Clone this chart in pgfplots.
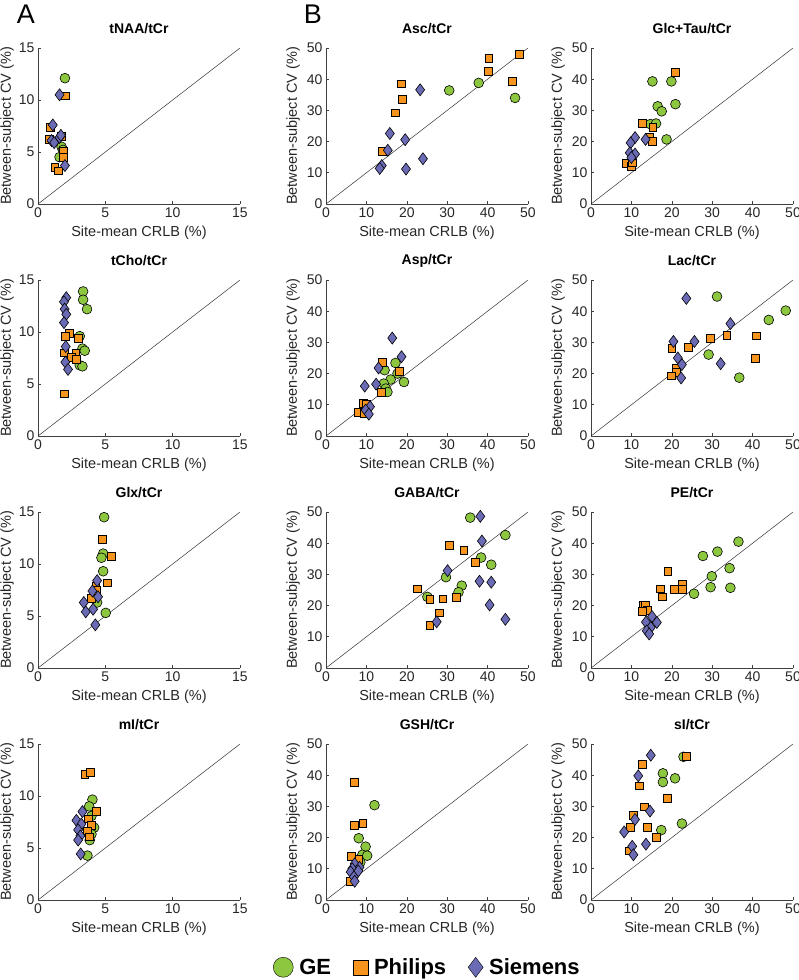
\documentclass[border=0pt]{standalone}
\usepackage{fontspec}
\setmainfont{Liberation Sans}
\usepackage{pgfplots}
\pgfplotsset{compat=1.18}

\definecolor{gecol}{RGB}{141,198,63}
\definecolor{phcol}{RGB}{247,148,30}
\definecolor{sicol}{RGB}{107,107,181}

\pgfplotsset{
  panel/.style={
    scale only axis, width=202pt, height=156pt,
    axis lines*=left, tick align=inside, clip=false,
    major tick length=3pt,
    axis line style={black!75, line width=0.6pt},
    every tick/.style={black!75, line width=0.6pt},
    /pgf/number format/assume math mode=true,
    tick label style={font=\fontsize{14}{16}\selectfont, text=black!85},
    label style={font=\fontsize{14.5}{17}\selectfont, text=black!85},
    xlabel={Site-mean CRLB (\%)},
    ylabel={Between-subject CV (\%)},
    x label style={at={(axis description cs:0.5,-0.186)}, anchor=center},
    y label style={at={(axis description cs:-0.163,0.5)}, anchor=center},
    title style={at={(axis description cs:0.5,1)}, anchor=center, yshift=13pt,
      font=\bfseries\fontsize{14}{16}\selectfont},
    anchor=south west,
  },
  % left column: keep the y label just inside the page edge
  leftcol/.style={y label style={at={(axis description cs:-0.153,0.5)}}},
  small/.style={xmin=0, xmax=15, ymin=0, ymax=15, xtick={0,5,10,15}, ytick={0,5,10,15}},
  big/.style={xmin=0, xmax=50, ymin=0, ymax=50, xtick={0,10,...,50}, ytick={0,10,...,50}},
  diag/.style={black!80, line width=0.5pt, no marks},
  ge/.style={only marks, mark=*, mark size=4.9pt, mark options={fill=gecol, draw=black, line width=0.6pt}},
  ph/.style={only marks, mark=square*, mark size=3.9pt, mark options={fill=phcol, draw=black, line width=0.6pt}},
  si/.style={only marks, mark=diamond*, mark size=6pt, mark options={fill=sicol, draw=black, line width=0.6pt}},
}

\begin{document}
\begin{tikzpicture}

% ---- row 1 ----
\begin{axis}[panel, small, leftcol, at={(38pt,776pt)}, title={tNAA/tCr}]
\addplot[diag] coordinates {(0,0) (15,15)};
\addplot[ge] coordinates {(2.0,12.1) (1.75,5.5) (1.85,5.2) (1.6,4.5)};
\addplot[ph] coordinates {(2.0,10.4) (0.9,7.4) (1.75,6.5) (0.85,6.2) (1.85,5.1) (1.9,4.5) (1.25,3.5) (1.5,3.2)};
\addplot[si] coordinates {(1.6,10.5) (1.1,7.6) (1.6,6.4) (1.7,6.6) (1.0,6.1) (1.2,5.9) (2.0,3.7)};
\end{axis}

\begin{axis}[panel, big, at={(326pt,776pt)}, title={Asc/tCr}]
\addplot[diag] coordinates {(0,0) (50,50)};
\addplot[ge] coordinates {(30.5,36.4) (37.8,38.8) (46.8,34.0)};
\addplot[ph] coordinates {(47.9,47.9) (40.3,46.6) (40.1,42.6) (46.1,39.2) (18.7,38.5) (18.8,33.5) (17.1,29.2) (13.9,17.0)};
\addplot[si] coordinates {(23.3,36.6) (15.8,22.6) (19.6,20.6) (15.3,17.2) (13.8,12.3) (13.3,11.4) (19.8,11.2) (24.0,14.5)};
\end{axis}

\begin{axis}[panel, big, at={(591pt,776pt)}, title={Glc+Tau/tCr}]
\addplot[diag] coordinates {(0,0) (50,50)};
\addplot[ge] coordinates {(15.2,39.3) (19.9,39.3) (20.9,32.0) (16.5,31.3) (17.5,29.7) (14.7,25.6) (16.1,25.8) (18.7,20.7)};
\addplot[ph] coordinates {(20.9,42.3) (12.6,25.8) (15.3,24.7) (14.4,21.3) (15.2,20.1) (8.8,13.1) (10.0,12.2) (10.2,13.2)};
\addplot[si] coordinates {(13.5,20.7) (10.9,21.3) (9.8,19.6) (9.6,16.4) (10.9,16.0) (10.0,14.9)};
\end{axis}

% ---- row 2 ----
\begin{axis}[panel, small, leftcol, at={(38pt,544pt)}, title={tCho/tCr}]
\addplot[diag] coordinates {(0,0) (15,15)};
\addplot[ge] coordinates {(3.35,13.9) (3.35,13.1) (3.64,12.2) (3.1,9.6) (3.3,8.4) (3.47,8.2) (3.1,6.8) (3.3,6.7)};
\addplot[ph] coordinates {(2.3,9.9) (2.03,9.6) (2.98,9.4) (1.98,8.0) (2.8,8.0) (2.48,7.6) (2.85,7.4) (1.98,4.05)};
\addplot[si] coordinates {(2.1,13.3) (1.93,12.9) (1.98,12.2) (2.1,11.7) (1.93,10.9) (2.06,8.6) (2.03,7.1) (2.23,6.4)};
\end{axis}

\begin{axis}[panel, big, at={(326pt,544pt)}, title={Asp/tCr}]
\addplot[diag] coordinates {(0,0) (50,50)};
\addplot[ge] coordinates {(14.5,21.1) (17.2,23.4) (17.7,20.0) (19.3,17.3) (16.0,18.1) (14.3,16.8) (14.8,15.2) (15.2,14.1)};
\addplot[ph] coordinates {(13.9,23.5) (18.2,20.7) (13.7,14.1) (9.2,10.4) (10.0,10.1) (8.0,7.6) (9.4,7.4)};
\addplot[si] coordinates {(16.4,31.4) (18.7,25.4) (13.0,21.8) (12.4,16.6) (9.6,16.0) (10.9,9.4) (9.8,8.3) (10.6,7.0)};
\end{axis}

\begin{axis}[panel, big, at={(591pt,544pt)}, title={Lac/tCr}]
\addplot[diag] coordinates {(0,0) (50,50)};
\addplot[ge] coordinates {(31.2,44.7) (48.2,40.2) (44.0,37.2) (29.1,26.1) (36.7,18.7)};
\addplot[ph] coordinates {(33.6,32.2) (40.9,32.1) (29.5,31.2) (24.1,28.5) (20.0,28.0) (40.7,24.8) (21.0,21.6) (21.2,20.5) (19.8,19.3)};
\addplot[si] coordinates {(23.6,44.1) (34.5,36.0) (25.6,30.3) (20.4,30.3) (21.5,25.0) (32.1,23.2) (22.5,22.9) (22.3,18.6)};
\end{axis}

% ---- row 3 ----
\begin{axis}[panel, small, leftcol, at={(38pt,312pt)}, title={Glx/tCr}]
\addplot[diag] coordinates {(0,0) (15,15)};
\addplot[ge] coordinates {(4.91,14.5) (4.84,11.0) (4.71,10.6) (4.84,9.3) (4.39,6.3) (5.03,5.3)};
\addplot[ph] coordinates {(4.79,12.4) (5.45,10.75) (5.13,8.2) (4.29,7.9) (4.34,7.5) (3.97,6.7)};
\addplot[si] coordinates {(4.39,8.4) (4.04,7.4) (4.46,6.85) (3.4,6.3) (4.09,5.65) (3.55,5.4) (4.26,4.15)};
\end{axis}

\begin{axis}[panel, big, at={(326pt,312pt)}, title={GABA/tCr}]
\addplot[diag] coordinates {(0,0) (50,50)};
\addplot[ge] coordinates {(35.7,48.2) (44.4,42.6) (38.4,35.4) (40.9,33.1) (29.7,29.1) (33.6,26.4) (32.8,24.3) (25.1,22.8)};
\addplot[ph] coordinates {(30.6,39.2) (34.1,37.8) (36.9,33.8) (22.6,25.4) (25.7,21.9) (28.9,22.2) (32.2,22.7) (28.0,17.7) (25.7,13.8)};
\addplot[si] coordinates {(38.2,48.6) (38.6,40.7) (30.1,31.2) (38.0,27.8) (40.9,27.5) (40.5,20.2) (27.4,14.8) (44.4,15.6)};
\end{axis}

\begin{axis}[panel, big, at={(591pt,312pt)}, title={PE/tCr}]
\addplot[diag] coordinates {(0,0) (50,50)};
\addplot[ge] coordinates {(36.5,40.5) (31.3,37.3) (27.7,35.9) (34.3,32.0) (29.9,29.4) (29.6,25.9) (34.5,25.7) (25.5,23.8)};
\addplot[ph] coordinates {(19.0,31.0) (22.5,27.0) (17.1,25.4) (20.6,25.2) (22.5,25.2) (17.6,22.8) (13.0,20.1) (13.4,20.2) (14.0,18.5) (12.7,18.3)};
\addplot[si] coordinates {(15.1,16.5) (13.6,14.7) (16.3,14.6) (14.8,13.0) (13.8,11.9) (14.4,10.9)};
\end{axis}

% ---- row 4 ----
\begin{axis}[panel, small, leftcol, at={(38pt,80pt)}, title={mI/tCr}]
\addplot[diag] coordinates {(0,0) (15,15)};
\addplot[ge] coordinates {(4.04,9.65) (3.8,9.0) (3.97,8.07) (4.17,6.96) (3.97,6.33) (3.84,5.76) (3.67,4.27)};
\addplot[ph] coordinates {(3.47,12.1) (3.89,12.3) (4.34,8.5) (3.72,7.8) (3.97,7.2) (3.64,6.65) (3.8,6.08)};
\addplot[si] coordinates {(3.3,8.5) (2.85,7.66) (3.22,7.3) (2.98,6.74) (3.15,6.17) (2.98,5.76) (3.17,4.43)};
\end{axis}

\begin{axis}[panel, big, at={(326pt,80pt)}, title={GSH/tCr}]
\addplot[diag] coordinates {(0,0) (50,50)};
\addplot[ge] coordinates {(12.0,30.4) (8.1,19.8) (9.8,17.1) (9.0,14.5) (10.2,14.2) (8.5,12.1)};
\addplot[ph] coordinates {(7.1,37.7) (7.1,23.9) (9.1,24.7) (6.3,13.9) (8.1,13.0) (5.9,6.1)};
\addplot[si] coordinates {(7.1,11.6) (8.3,10.5) (6.5,10.0) (6.1,9.0) (8.0,9.3) (6.9,7.4) (7.1,6.0)};
\end{axis}

\begin{axis}[panel, big, at={(591pt,80pt)}, title={sI/tCr}]
\addplot[diag] coordinates {(0,0) (50,50)};
\addplot[ge] coordinates {(22.9,45.9) (17.8,40.6) (17.8,37.8) (20.8,39.0) (22.5,24.5) (17.4,22.4)};
\addplot[ph] coordinates {(23.6,46.1) (12.6,43.6) (12.0,36.6) (18.9,32.6) (13.1,29.9) (10.5,27.1) (9.8,23.4) (14.0,23.4) (16.1,20.0) (9.4,15.8)};
\addplot[si] coordinates {(14.8,46.4) (11.7,39.8) (14.6,28.5) (10.9,25.8) (8.2,21.8) (13.6,17.9) (10.2,17.2) (10.5,14.5)};
\end{axis}

% ---- shared legend ----
\begin{axis}[hide axis, scale only axis, width=799pt, height=980pt, at={(0pt,0pt)}, anchor=south west,
  xmin=0, xmax=1, ymin=0, ymax=1,
  legend columns=3,
  legend style={at={(0.535,0.013)}, anchor=center, draw=none, fill=none,
    font=\bfseries\fontsize{22}{24}\selectfont,
    /tikz/every odd column/.append style={column sep=4pt},
    /tikz/every even column/.append style={column sep=20pt}}]
\addlegendimage{only marks, mark=*, mark size=10pt, mark options={fill=gecol, draw=none}}
\addlegendentry{GE}
\addlegendimage{only marks, mark=square*, mark size=7.5pt, mark options={fill=phcol, draw=none}}
\addlegendentry{Philips}
\addlegendimage{only marks, mark=diamond*, mark size=10pt, mark options={fill=sicol, draw=none}}
\addlegendentry{Siemens}
\end{axis}

\node[font=\fontsize{27}{30}\selectfont] at (26pt,966pt) {A};
\node[font=\fontsize{27}{30}\selectfont] at (313pt,966pt) {B};

\pgfresetboundingbox
\path[use as bounding box] (0pt,0pt) rectangle (799pt,980pt);
\end{tikzpicture}
\end{document}
